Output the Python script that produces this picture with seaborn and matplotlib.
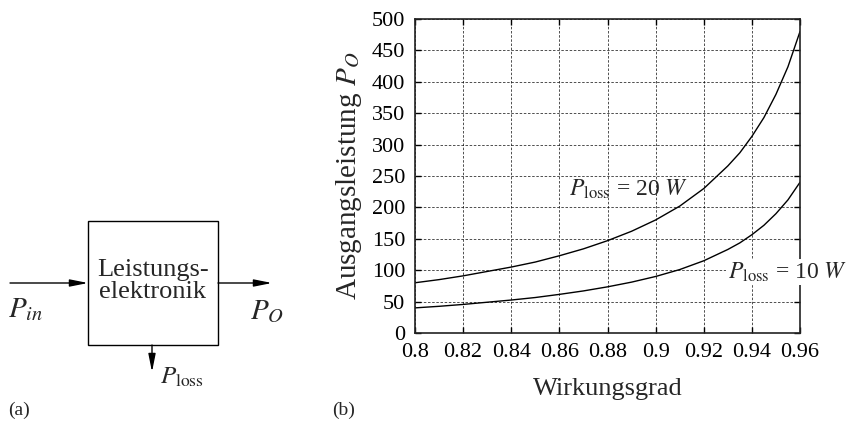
import numpy as np
import pandas as pd
import matplotlib
matplotlib.use("Agg")
import matplotlib.pyplot as plt
import seaborn as sns

# ---- data ----
efficiency = [0.80, 0.81, 0.82, 0.83, 0.84, 0.85, 0.86, 0.87, 0.88,
              0.89, 0.90, 0.91, 0.92, 0.93, 0.935, 0.94, 0.945, 0.95, 0.955, 0.96]
p_out_20w = [80, 85, 91, 98, 105, 113, 123, 134, 147,
             162, 180, 202, 230, 266, 287, 313, 343, 380, 424, 480]
p_out_10w = [40, 42.5, 45.5, 49, 52.5, 56.5, 61.5, 67, 73.5,
             81, 90, 101, 115, 133, 143.5, 156.5, 171.5, 190, 212, 240]
x_ticks = [0.8, 0.82, 0.84, 0.86, 0.88, 0.9, 0.92, 0.94, 0.96]
x_tick_labels = ["0.8", "0.82", "0.84", "0.86", "0.88", "0.9", "0.92", "0.94", "0.96"]
y_ticks = [0, 50, 100, 150, 200, 250, 300, 350, 400, 450, 500]
series_names = ["20 W", "10 W"]

sns.set_theme(style="ticks")
plt.rcParams["font.family"] = ["Liberation Serif", "DejaVu Serif"]
plt.rcParams["mathtext.fontset"] = "stix"

df = pd.concat([
    pd.DataFrame({"eta": efficiency, "P": p_out_20w, "s": series_names[0]}),
    pd.DataFrame({"eta": efficiency, "P": p_out_10w, "s": series_names[1]}),
])

fig = plt.figure(figsize=(8.49, 4.26), dpi=100)

# overlay axes in pixel coordinates for the block diagram
bg = fig.add_axes([0, 0, 1, 1])
bg.set_xlim(0, 849)
bg.set_ylim(426, 0)
bg.axis("off")

L, R, T, B = 415, 800, 19, 333
ax = fig.add_axes([L / 849, (426 - B) / 426, (R - L) / 849, (B - T) / 426])
sns.lineplot(data=df, x="eta", y="P", hue="s", palette=["black", "black"],
             linewidth=1.0, legend=False, ax=ax)
ax.set_xlim(0.8, 0.96)
ax.set_ylim(0, 500)
ax.set_xticks(x_ticks)
ax.set_xticklabels(x_tick_labels)
ax.set_yticks(y_ticks)
ax.tick_params(direction="in", top=True, right=True, length=4, width=1,
               labelsize=16, colors="black", pad=7)
ax.grid(True, color="black", linestyle=(0, (3, 2)), linewidth=0.6, alpha=0.8)
for sp in ax.spines.values():
    sp.set_visible(True)
    sp.set_linewidth(1.2)
    sp.set_color("#222222")
ax.set_xlabel("Wirkungsgrad", fontsize=19, labelpad=12)
ax.set_ylabel("Ausgangsleistung $P_O$", fontsize=21, labelpad=6)

ax.text(0.864, 228, r"$P_{\mathrm{loss}}$ = 20 $W$", fontsize=17, ha="left", va="center")
ax.text(0.930, 97, r"$P_{\mathrm{loss}}$ = 10 $W$", fontsize=17, ha="left", va="center",
        clip_on=False, bbox=dict(facecolor="white", edgecolor="none", pad=1))

# ---- block diagram (a) ----
bg.add_patch(plt.Rectangle((88, 221), 130, 124, fill=False, edgecolor="black", linewidth=1.0))
bg.text(153, 281, "Leistungs-\nelektronik", fontsize=19, ha="center", va="center",
        linespacing=0.95)
arrow = dict(arrowstyle="-|>,head_length=0.9,head_width=0.18", color="black", lw=1.0,
             shrinkA=0, shrinkB=0)
bg.annotate("", xy=(88, 283), xytext=(10, 283), arrowprops=arrow)
bg.annotate("", xy=(272, 283), xytext=(218, 283), arrowprops=arrow)
bg.annotate("", xy=(152, 372), xytext=(152, 345), arrowprops=arrow)
bg.text(8, 310, r"$P_{in}$", fontsize=21, ha="left", va="center")
bg.text(250, 312, r"$P_O$", fontsize=21, ha="left", va="center")
bg.text(160, 377, r"$P_{\mathrm{loss}}$", fontsize=18, ha="left", va="center")
bg.text(8, 410, "(a)", fontsize=14, ha="left", va="center")
bg.text(332, 410, "(b)", fontsize=14, ha="left", va="center")

fig.savefig("out.png", dpi=100)
